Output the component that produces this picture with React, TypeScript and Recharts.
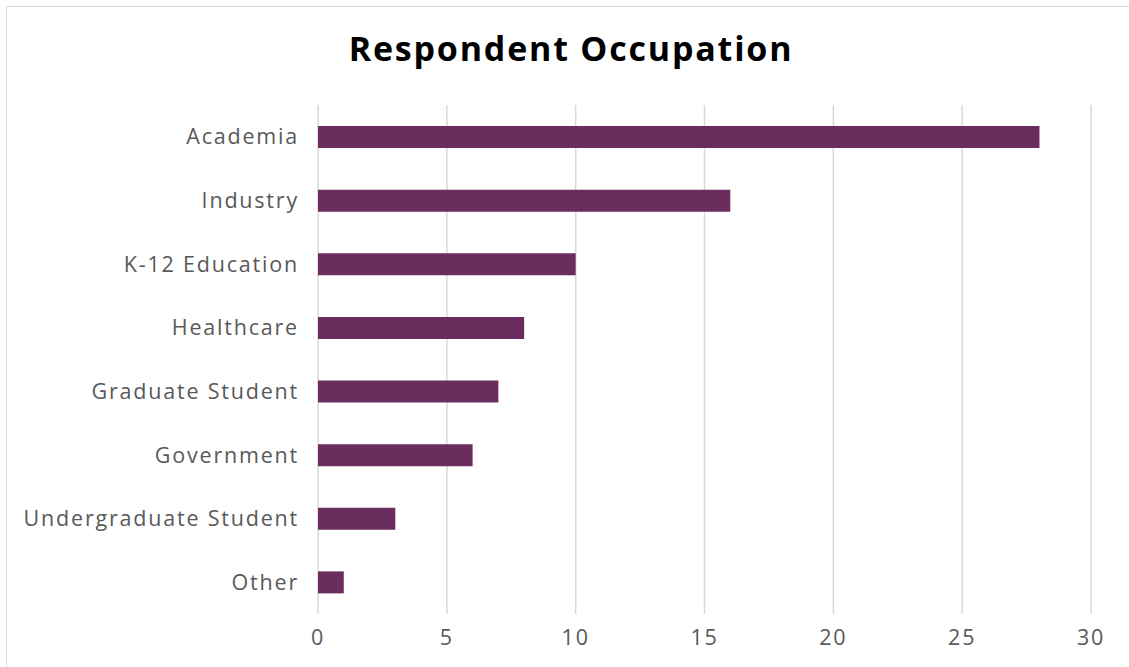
import React from "react";
import {Bar, BarChart, CartesianGrid, XAxis, YAxis} from "recharts";

const occupations = [
  "Academia",
  "Industry",
  "K-12 Education",
  "Healthcare",
  "Graduate Student",
  "Government",
  "Undergraduate Student",
  "Other",
];
const respondents = [28, 16, 10, 8, 7, 6, 3, 1];
const xTicks = [0, 5, 10, 15, 20, 25, 30];

const data = occupations.map((label, i) => ({label, value: respondents[i]}));

const FONT = "'Open Sans', sans-serif";
const tickStyle = {fontSize: 21.5, fill: "#595959", fontFamily: FONT, letterSpacing: 1.8};

export default function App() {
  return (
    <div
      style={{
        position: "fixed",
        left: 0,
        top: 0,
        width: 1129,
        height: 667,
        background: "#fff",
        overflow: "hidden",
        fontFamily: FONT,
      }}>
      <div
        style={{
          position: "absolute",
          left: 6,
          top: 6,
          width: 1140,
          height: 680,
          border: "1px solid #d9d9d9",
        }}
      />
      <div
        style={{
          position: "absolute",
          left: 0,
          top: 25,
          width: 1142,
          textAlign: "center",
          fontSize: 34,
          fontWeight: 700,
          color: "#000",
          letterSpacing: 1.8,
        }}>
        Respondent Occupation
      </div>
      <div style={{position: "absolute", left: 0, top: 0}}>
        <BarChart
          width={1129}
          height={667}
          data={data}
          layout="vertical"
          margin={{top: 105, right: 38, bottom: 13, left: 0}}
          barCategoryGap={0}>
          <CartesianGrid horizontal={false} stroke="#d9d9d9" strokeWidth={1.5} />
          <XAxis
            type="number"
            domain={[0, 30]}
            ticks={xTicks}
            axisLine={false}
            tickLine={false}
            tickMargin={10}
            height={40}
            tick={tickStyle}
          />
          <YAxis
            type="category"
            dataKey="label"
            width={318}
            axisLine={false}
            tickLine={false}
            tickMargin={13}
            tick={tickStyle}
          />
          <Bar
            dataKey="value"
            fill="#6b2d5e"
            barSize={22}
            isAnimationActive={false}
          />
        </BarChart>
      </div>
    </div>
  );
}
